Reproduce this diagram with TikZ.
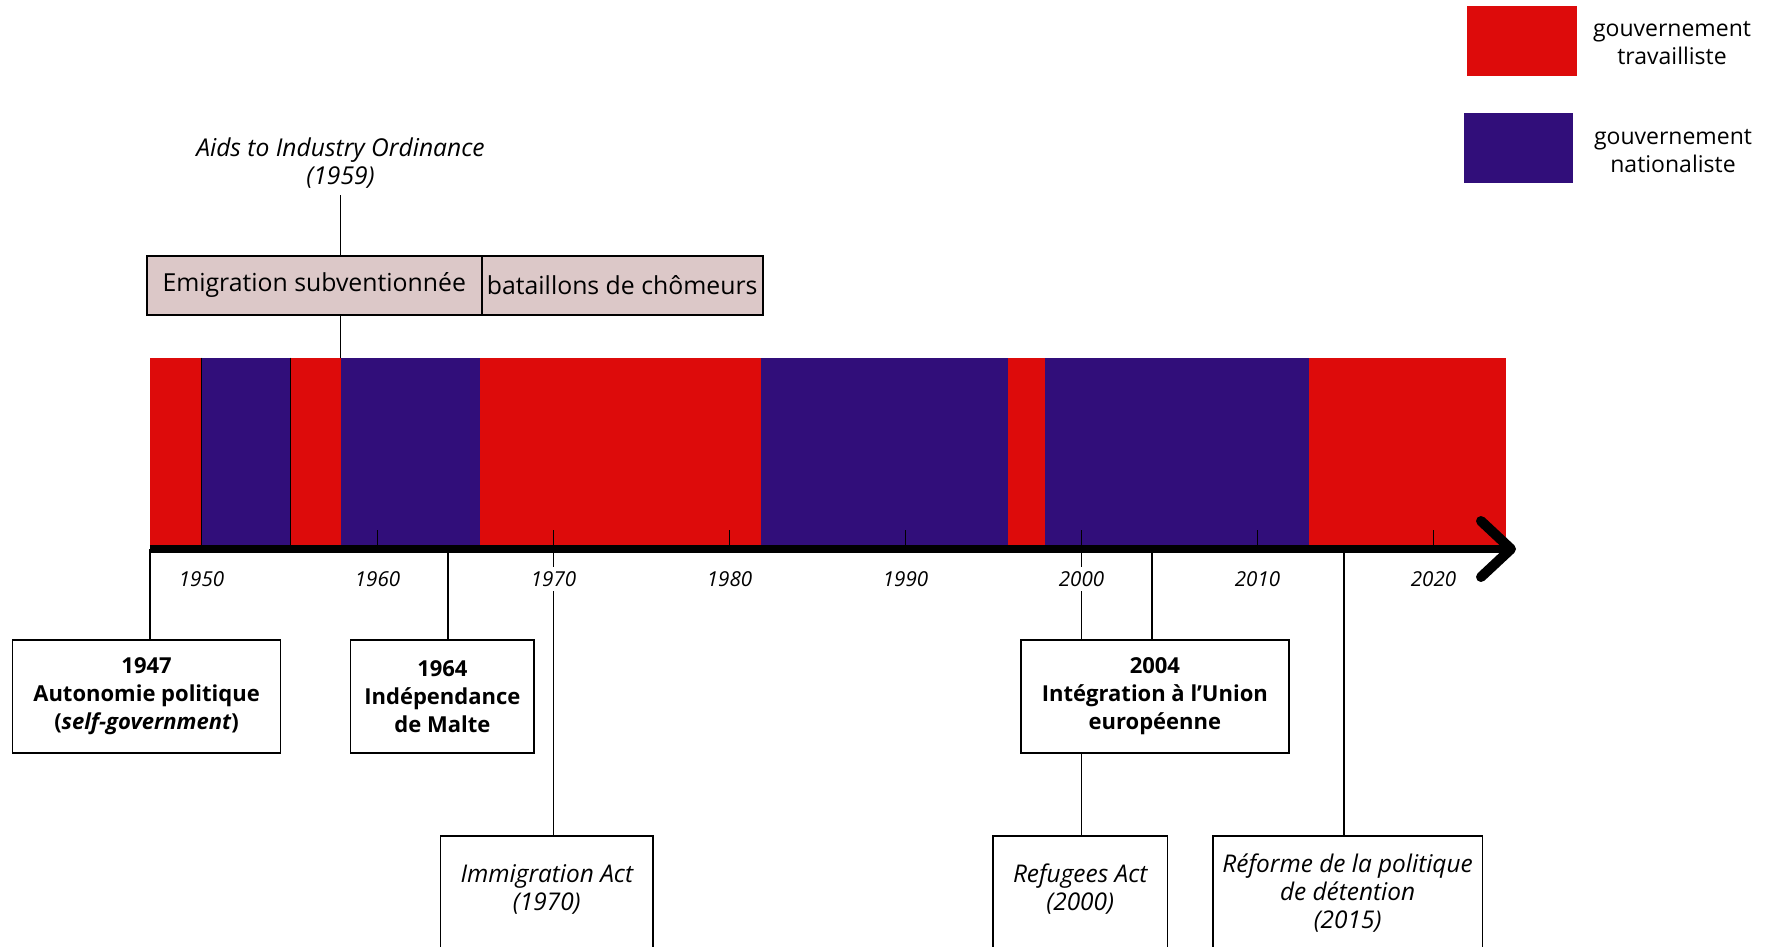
\documentclass[tikz,border=0pt]{standalone}
\usepackage{fontspec}
\IfFontExistsTF{Noto Sans Bold}{%
  \IfFontExistsTF{Noto Sans Bold Italic}{%
    \setmainfont{Noto Sans}[BoldFont={Noto Sans Bold},BoldItalicFont={Noto Sans Bold Italic}]}{%
    \setmainfont{Noto Sans}[BoldFont={Noto Sans Bold},BoldItalicFont={Noto Sans Bold},BoldItalicFeatures={FakeSlant=0.2}]}}{%
  \setmainfont{Open Sans}}
\usetikzlibrary{positioning,calc}

\definecolor{labred}{RGB}{221,11,11}
\definecolor{natblue}{RGB}{49,14,122}
\definecolor{boxpink}{RGB}{220,200,200}

% year -> x position on the axis
\newcommand{\yx}[1]{201.5+17.6*(#1-1950)}

\begin{document}
\begin{tikzpicture}[x=0.5pt,y=-0.5pt]
        \tikzstyle{every node}=[font=\fontsize{11.5}{14}\selectfont]
        \tikzset{
            event/.style={draw,thick,fill=white,align=center,inner sep=0pt,minimum height=56.3pt,font=\fontsize{11}{14}\selectfont\bfseries},
            law/.style={draw,thick,fill=white,align=center,anchor=north,inner xsep=0pt,text depth=50pt,font=\fontsize{12.2}{14}\selectfont\itshape},
            policy/.style={draw,thick,fill=boxpink,inner sep=0pt,outer sep=0pt,minimum height=29.4pt,font=\fontsize{12.4}{14}\selectfont},
            swatch/.style={inner sep=0pt,minimum width=54.7pt,minimum height=35pt},
            yearlabel/.style={fill=white,inner sep=2pt,font=\fontsize{10.3}{11}\selectfont\itshape},
            link/.style={draw,line width=0.8pt}
        }
        \useasboundingbox (0,0) rectangle (1769,947);
        \clip (0,0) rectangle (1769,947);

        %%% Governments
        \foreach \a/\b/\c in {1947.07/1950/labred, 1950/1955.07/natblue, 1955.07/1957.9/labred,
                              1957.9/1965.8/natblue, 1965.8/1981.8/labred, 1981.8/1995.8/natblue,
                              1995.8/1997.9/labred, 1997.9/2012.9/natblue, 2012.9/2024.1/labred}
            \fill[\c] ({\yx{\a}},357.5) rectangle ({\yx{\b}},549);
        \draw[semithick] ({\yx{1950}},357.5) -- ({\yx{1950}},545);
        \draw[semithick] ({\yx{1955.07}},357.5) -- ({\yx{1955.07}},545);

        %%% Axis
        \coordinate (e1947) at ({\yx{1947.07}},549);
        \coordinate (e1958) at ({\yx{1957.9}},357.5);
        \coordinate (e1964) at ({\yx{1964}},549);
        \coordinate (e2004) at ({\yx{2004}},549);
        \coordinate (e2015) at ({\yx{2014.9}},549);
        \coordinate (tip) at (1511,549);
        \draw[line width=4pt] (e1947) -- (1506,549);
        \draw[line width=5pt,line cap=round,line join=round] (1481,521) -- (tip) -- (1481,577);
        \foreach \y in {1950,1960,...,2020} {
            \coordinate (t\y) at ({\yx{\y}},549);
            \draw[semithick] (t\y) -- ++(0,-19);
        }

        %%% Events
        \node[event,minimum width=134pt] (b1947) at (146.6,696.4) {1947\\Autonomie politique\\(\textit{self-government})};
        \node[event,minimum width=91.8pt] (b1964) at (442.4,696.4) {1964\\Indépendance\\de Malte};
        \node[event,minimum width=134pt] (b2004) at (1154.9,696.4) {2004\\Intégration à l’Union\\européenne};

        \node[law,minimum width=106.3pt,inner ysep=14.2pt] (immig) at (546.8,835) {Immigration Act\\(1970)};
        \node[law,minimum width=87.4pt,inner ysep=14.2pt] (refug) at (1080.2,835) {Refugees Act\\(2000)};
        \node[law,minimum width=134.8pt,inner ysep=9.2pt] (reform) at (1347.6,835) {Réforme de la politique\\de détention\\(2015)};

        \node[policy,minimum width=167.5pt] (emig) at (314.2,285.4) {Emigration subventionnée};
        \node[policy,minimum width=140.5pt,right=0pt of emig] (batt) {bataillons de chômeurs};
        \node[align=center,font=\fontsize{12.3}{14}\selectfont\itshape] (aids) at (340.5,163) {Aids to Industry Ordinance\\(1959)};

        \draw[link] (aids.south -| e1958) -- (e1958 |- emig.north);
        \draw[link] (e1958 |- emig.south) -- (e1958);
        \draw[link] (e1947) -- (e1947 |- b1947.north);
        \draw[link] (e1964) -- (e1964 |- b1964.north);
        \draw[link] (t1970) -- (t1970 |- immig.north);
        \draw[link] (t2000) -- (t2000 |- b2004.north);
        \draw[link] (t2000 |- b2004.south) -- (t2000 |- refug.north);
        \draw[link] (e2004) -- (e2004 |- b2004.north);
        \draw[link] (e2015) -- (e2015 |- reform.north);

        \foreach \y in {1950,1960,...,2020}
            \node[yearlabel] (l\y) at ({\yx{\y}},579) {\y};

        %%% Legend
        \node[swatch,fill=labred] (lab) at (1522,40.8) {};
        \node[align=center] (labtxt) at (1672,43.4) {gouvernement\\travailliste};
        \node[swatch,fill=natblue] (nat) at (1518.5,148.3) {};
        \node[align=center] (nattxt) at (1673,150.6) {gouvernement\\nationaliste};
\end{tikzpicture}
\end{document}
